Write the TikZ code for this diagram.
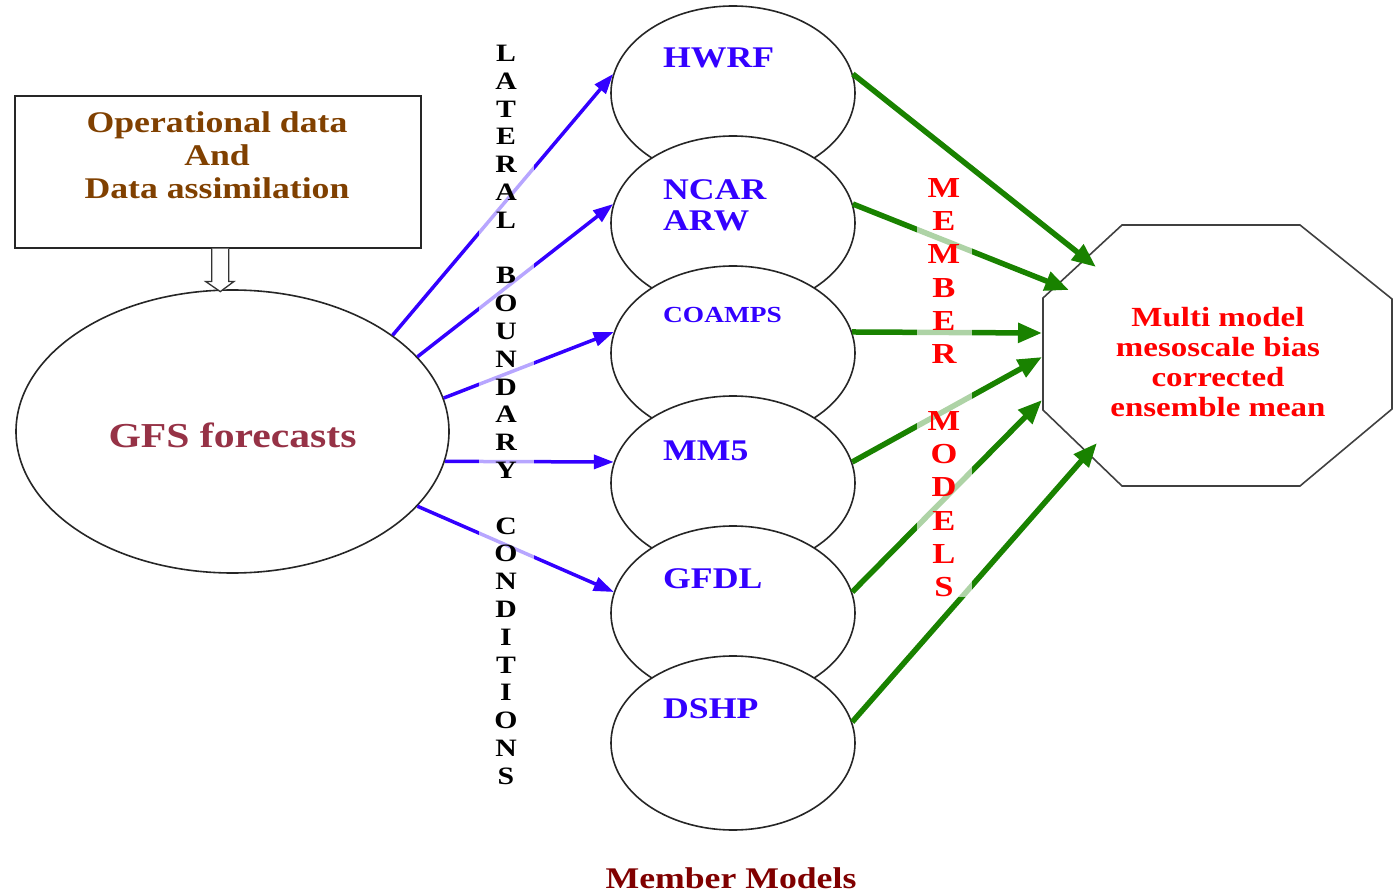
\documentclass[tikz,border=0pt]{standalone}
\usepackage{fontspec}
\setmainfont{Liberation Serif}[FakeStretch=1.19]
\usetikzlibrary{arrows.meta,shapes.geometric,calc}
\definecolor{boxbrown}{RGB}{128,64,0}
\definecolor{gfsred}{RGB}{150,50,70}
\definecolor{mblue}{RGB}{51,0,255}
\definecolor{mgreen}{RGB}{25,130,0}
\definecolor{mred}{RGB}{255,0,0}
\definecolor{mmaroon}{RGB}{128,0,0}
\tikzset{
  member/.style={ellipse, draw=black!85, line width=1.6pt, fill=white,
    minimum width=244pt, minimum height=174pt, inner sep=0pt},
  mlabel/.style={font=\bfseries\fontsize{30}{31}\selectfont, text=mblue,
    inner sep=0pt, anchor=base west},
  bluearrow/.style={draw=mblue, line width=3.5pt, -{Triangle[length=20pt,width=14pt]}},
  greenarrow/.style={draw=mgreen, line width=5.5pt, -{Triangle[length=24pt,width=19pt]}},
  vtext/.style={align=center, inner sep=0pt, fill=white, fill opacity=0.65,
    text opacity=1, minimum width=55pt, anchor=north},
}
\begin{document}
\begin{tikzpicture}[x=1pt,y=-1pt]
\useasboundingbox (0,0) rectangle (1393,893);

% source box
\node[draw=black!85, line width=1.6pt, minimum width=406pt, minimum height=152pt,
      inner sep=0pt, anchor=north west] (box) at (14,95) {};
\node[font=\bfseries\fontsize{30}{33}\selectfont, text=boxbrown, align=center,
      inner sep=0pt, anchor=north] (boxtext) at (217,111)
      {Operational data\\And\\Data assimilation};

% GFS ellipse
\node[ellipse, draw=black!85, line width=1.6pt, fill=white, minimum width=433pt,
      minimum height=283pt, inner sep=0pt, font=\bfseries\fontsize{35}{40}\selectfont,
      text=gfsred, text height=31pt, text depth=0pt] (gfs) at (232.5,431.5) {GFS forecasts};

% open double arrow
\coordinate (da) at ($(box.south)+(2.5,0)$);
\draw[black!80, line width=1.3pt, fill=white]
  ($(da)+(-8.5,0)$) -- ($(da)+(-8.5,33)$) -- ($(da)+(-14.5,33)$) -- ($(da)+(0,43)$)
  -- ($(da)+(13.5,33)$) -- ($(da)+(8.5,33)$) -- ($(da)+(8.5,0)$);

% member models
\node[member] (hwrf) at (733,93) {};
\node[member] (ncar) at (733,223) {};
\node[member] (coamps) at (733,353) {};
\node[member] (mm5) at (733,483) {};
\node[member] (gfdl) at (733,613) {};
\node[member] (dshp) at (733,743) {};

\node[mlabel] (lhwrf) at (663,68) {HWRF};
\node[mlabel, anchor=north west, align=left] (lncar) at (663,179) {NCAR\\ARW};
\node[mlabel, font=\bfseries\fontsize{23}{25}\selectfont] (lcoamps) at (663,323) {COAMPS};
\node[mlabel] (lmm5) at (663,460) {MM5};
\node[mlabel] (lgfdl) at (663,588) {GFDL};
\node[mlabel] (ldshp) at (663,718) {DSHP};

% octagon
\coordinate (o1) at (1122,225);
\coordinate (o2) at (1300,225);
\coordinate (o3) at (1392,299);
\coordinate (o4) at (1392,409);
\coordinate (o5) at (1300,486);
\coordinate (o6) at (1122,486);
\coordinate (o7) at (1043,410);
\coordinate (o8) at (1043,298);
\draw[black!75, line width=1.6pt] (o1) -- (o2) -- (o3) -- (o4) -- (o5) -- (o6) -- (o7) -- (o8) -- cycle;
\node[font=\bfseries\fontsize{27.7}{30}\selectfont, text=mred, align=center,
      inner sep=0pt, anchor=north] (multi) at (1218,307)
      {Multi model\\mesoscale bias\\corrected\\ensemble mean};

% arrow targets on the octagon
\coordinate (t1) at (1096,267);
\coordinate (t2) at (1069,290);
\coordinate (t3) at (1042,333);
\coordinate (t4) at (1042,357);
\coordinate (t5) at (1042,400);
\coordinate (t6) at (1097,443);

% blue arrows
\draw[bluearrow] (gfs.31) -- (hwrf.171);
\draw[bluearrow] (gfs.22) -- (ncar.171);
\draw[bluearrow] (gfs.9) -- (coamps.170);
\draw[bluearrow] (gfs.-8) -- (mm5.170);
\draw[bluearrow] (gfs.-22) -- (gfdl.170);

% green arrows
\draw[greenarrow] (hwrf.9) -- (t1);
\draw[greenarrow] (ncar.9) -- (t2);
\draw[greenarrow] (coamps.10) -- (t3);
\draw[greenarrow] (mm5.10) -- (t4);
\draw[greenarrow] (gfdl.10) -- (t5);
\draw[greenarrow] (dshp.10) -- (t6);

% vertical texts
\node[vtext, font=\bfseries\fontsize{25}{27.8}\selectfont] (lbc) at (506,45)
  {L\\A\\T\\E\\R\\A\\L\\[27.8pt]B\\O\\U\\N\\D\\A\\R\\Y\\[27.8pt]C\\O\\N\\D\\I\\T\\I\\O\\N\\S};
\node[vtext, text=mred, font=\bfseries\fontsize{29}{33.3}\selectfont] (mmv) at (944,178)
  {M\\E\\M\\B\\E\\R\\[33.3pt]M\\O\\D\\E\\L\\S};

% caption
\node[font=\bfseries\fontsize{30}{36}\selectfont, text=mmaroon, anchor=base,
      inner sep=0pt] (caption) at (731,888) {Member Models};
\end{tikzpicture}
\end{document}
